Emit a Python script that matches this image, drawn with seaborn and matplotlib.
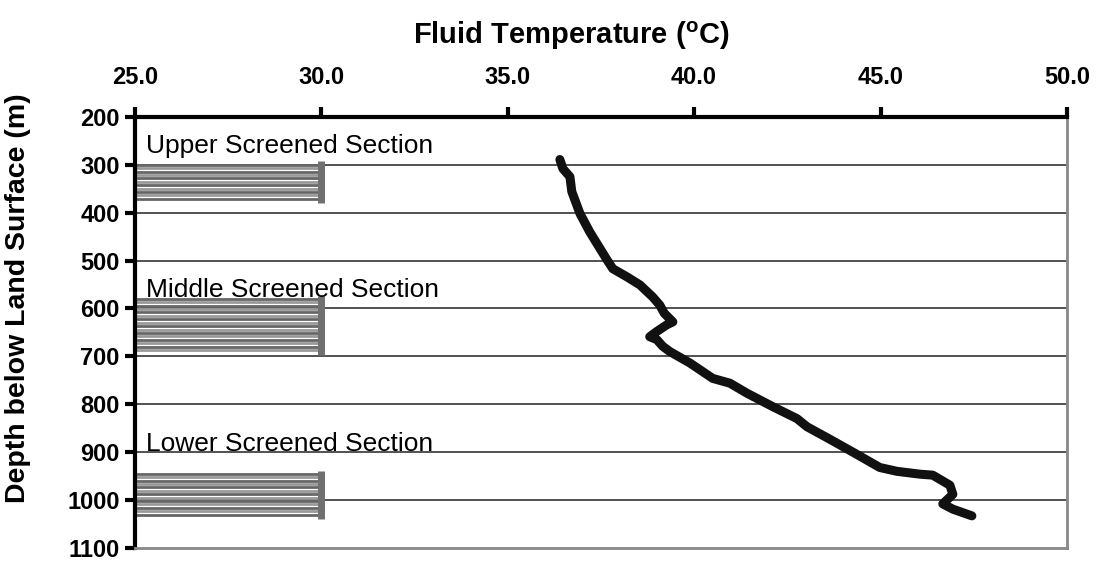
import numpy as np
import pandas as pd
import matplotlib
matplotlib.use("Agg")
import matplotlib.pyplot as plt
import seaborn as sns

# ---- data ----
temperature_c = [36.40, 36.48, 36.67, 36.72, 36.94, 37.20, 37.66, 37.82, 38.20, 38.55,
                 38.89, 39.08, 39.20, 39.43, 39.27, 39.00, 38.81, 39.00, 39.16, 39.35,
                 39.89, 40.50, 40.96, 41.42, 42.11, 42.76, 43.03, 43.64, 44.26, 44.98,
                 45.44, 46.06, 46.40, 46.86, 46.94, 46.67, 46.94, 47.45]
depth_m = [289, 308, 325, 356, 402, 440, 498, 517, 534, 551,
           576, 593, 610, 628, 634, 648, 659, 665, 679, 690,
           714, 746, 756, 777, 805, 830, 847, 873, 900, 932,
           940, 946, 948, 969, 988, 1008, 1019, 1033]

section_names = ["Upper Screened Section", "Middle Screened Section", "Lower Screened Section"]
section_top = [300, 580, 945]
section_bottom = [371, 690, 1031]
bar_top = [293, 573, 940]
bar_bottom = [379, 697, 1040]
label_depth = [276, 575, 898]

x_ticks = [25.0, 30.0, 35.0, 40.0, 45.0, 50.0]
y_ticks = [200, 300, 400, 500, 600, 700, 800, 900, 1000, 1100]
grid_depths = [300, 400, 500, 600, 700, 800, 900, 1000]

sns.set_style("white")
plt.rcParams['font.family'] = ['Liberation Sans', 'DejaVu Sans']
plt.rcParams['text.color'] = 'black'
plt.rcParams['axes.labelcolor'] = 'black'
plt.rcParams['xtick.color'] = 'black'
plt.rcParams['ytick.color'] = 'black'

fig = plt.figure(figsize=(10.96, 5.62), dpi=100)
ax = fig.add_axes([0.123, 0.025, 0.8505, 0.767])

ax.set_xlim(25, 50)
ax.set_ylim(1100, 200)

for d in grid_depths:
    ax.axhline(d, color="#222222", lw=1.1, zorder=1)

# screened sections
for name, t, b, bt, bb, ld in zip(section_names, section_top, section_bottom,
                                  bar_top, bar_bottom, label_depth):
    ys = np.arange(t, b + 0.1, 7.1)
    for i, yv in enumerate(ys):
        ax.hlines(yv, 25, 30, color="#666666" if i % 2 == 0 else "#999999",
                  lw=2.0, zorder=2)
    ax.vlines(30, bt, bb, color="#707070", lw=5, zorder=3)
    ax.text(25.3, ld, name, fontsize=19, va="baseline", ha="left", color="black", zorder=4)

df = pd.DataFrame({"temp": temperature_c, "depth": depth_m})
sns.lineplot(data=df, x="temp", y="depth", sort=False, estimator=None,
             color="#111111", lw=6.5, ax=ax, zorder=5,
             solid_capstyle="round", solid_joinstyle="round")

ax.xaxis.tick_top()
ax.xaxis.set_label_position("top")
ax.set_xticks(x_ticks)
ax.set_xticklabels([f"{v:.1f}" for v in x_ticks], fontsize=17, fontweight="bold")
ax.set_yticks(y_ticks)
ax.set_yticklabels([str(v) for v in y_ticks], fontsize=17, fontweight="bold")
ax.set_xlabel("Fluid Temperature ($\\mathregular{^o}$C)", fontsize=21, fontweight="bold")
ax.set_ylabel("Depth below Land Surface (m)", fontsize=20.5, fontweight="bold")
ax.xaxis.set_label_coords(0.468, 1.169)
ax.yaxis.set_label_coords(-0.1116, 0.58)

ax.tick_params(axis="both", which="major", direction="out", length=7, width=3,
               color="black", labelcolor="black")
ax.tick_params(axis="x", top=True, bottom=False, pad=13)
ax.tick_params(axis="y", left=True, right=False, pad=4)

for side in ["left", "top"]:
    ax.spines[side].set_color("black")
    ax.spines[side].set_linewidth(3)
for side in ["right", "bottom"]:
    ax.spines[side].set_color("#888888")
    ax.spines[side].set_linewidth(2)

fig.savefig("out.png", dpi=100)
